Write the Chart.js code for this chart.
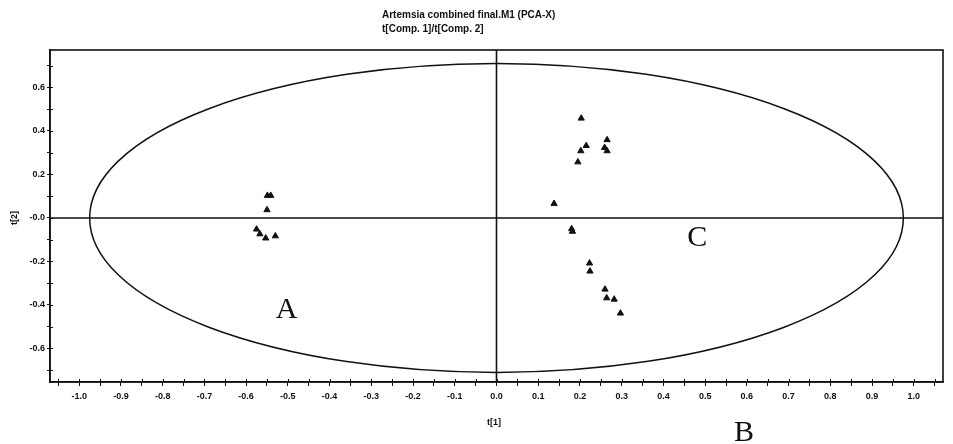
<!DOCTYPE html>
<html>
<head>
<meta charset="utf-8">
<script src="https://cdn.jsdelivr.net/npm/chart.js@4/dist/chart.umd.min.js"></script>
<style>
  html, body { margin: 0; padding: 0; background: #fff; }
  canvas { display: block; }
</style>
</head>
<body>
<canvas id="pcaChart" width="953" height="444"></canvas>
<script>
/* --- Data ---------------------------------------------------------------- */
const groupA = [
  { x: -0.549, y: 0.103 }, { x: -0.541, y: 0.103 }, { x: -0.550, y: 0.037 },
  { x: -0.575, y: -0.052 }, { x: -0.567, y: -0.074 }, { x: -0.553, y: -0.093 },
  { x: -0.530, y: -0.083 }
];
const groupC = [
  { x: 0.203, y: 0.458 }, { x: 0.215, y: 0.332 }, { x: 0.202, y: 0.308 },
  { x: 0.195, y: 0.257 }, { x: 0.265, y: 0.359 }, { x: 0.259, y: 0.323 },
  { x: 0.265, y: 0.308 }, { x: 0.138, y: 0.066 },
  { x: 0.180, y: -0.050 }, { x: 0.182, y: -0.062 }, { x: 0.223, y: -0.208 },
  { x: 0.224, y: -0.245 }, { x: 0.260, y: -0.328 }, { x: 0.264, y: -0.368 },
  { x: 0.282, y: -0.374 }, { x: 0.297, y: -0.438 }
];

const xTickValues = [-1.0, -0.9, -0.8, -0.7, -0.6, -0.5, -0.4, -0.3, -0.2, -0.1,
                     0.0, 0.1, 0.2, 0.3, 0.4, 0.5, 0.6, 0.7, 0.8, 0.9, 1.0];
const xTickLabels = ['-1.0', '-0.9', '-0.8', '-0.7', '-0.6', '-0.5', '-0.4', '-0.3', '-0.2', '-0.1',
                     '0.0', '0.1', '0.2', '0.3', '0.4', '0.5', '0.6', '0.7', '0.8', '0.9', '1.0'];
const yTickValues = [-0.6, -0.4, -0.2, 0.0, 0.2, 0.4, 0.6];
const yTickLabels = ['-0.6', '-0.4', '-0.2', '-0.0', '0.2', '0.4', '0.6'];

const titleLines = ['Artemsia combined final.M1 (PCA-X)', 't[Comp. 1]/t[Comp. 2]'];
const xTitle = 't[1]';
const yTitle = 't[2]';

// Hotelling T2 ellipse semi-axes (in score units)
const ellipseAxes = { a: 0.975, b: 0.71 };

// group letters placed on the plot
const groupLetters = [
  { text: 'A', x: -0.503, y: -0.423 },
  { text: 'C', x: 0.481, y: -0.093 }
];
const outsideLetter = { text: 'B', x: 0.593 };

/* --- Helpers ------------------------------------------------------------- */
const INK = '#111';

function labelFor(values, labels, v) {
  const i = values.findIndex(t => Math.abs(t - v) < 1e-6);
  return i < 0 ? '' : labels[i];
}

function stepTicks(axis, lo, hi, step) {
  const t = [];
  for (let v = lo; v <= hi + 1e-9; v += step) t.push({ value: Math.round(v * 100) / 100 });
  axis.ticks = t;
}

/* --- Decorations: ellipse, zero lines, frame, texts ---------------------- */
const decor = {
  id: 'decor',
  beforeDatasetsDraw(c) {
    const { ctx, chartArea: a, scales: { x, y } } = c;
    const cx = x.getPixelForValue(0), cy = y.getPixelForValue(0);
    ctx.save();
    ctx.strokeStyle = INK;
    ctx.lineWidth = 1.6;
    ctx.beginPath();
    ctx.moveTo(a.left, cy); ctx.lineTo(a.right, cy);
    ctx.moveTo(cx, a.top);  ctx.lineTo(cx, a.bottom);
    ctx.stroke();

    const rx = x.getPixelForValue(ellipseAxes.a) - cx;
    const ry = cy - y.getPixelForValue(ellipseAxes.b);
    ctx.lineWidth = 1.5;
    ctx.beginPath();
    ctx.ellipse(cx, cy, rx, ry, 0, 0, Math.PI * 2);
    ctx.stroke();
    ctx.restore();
  },
  afterDraw(c) {
    const { ctx, chartArea: a, scales: { x, y } } = c;
    ctx.save();
    ctx.strokeStyle = INK;
    ctx.lineWidth = 1.6;
    ctx.strokeRect(a.left, a.top, a.right - a.left, a.bottom - a.top);

    // short inward tick stubs, so ticks cross the axis like the original
    ctx.lineWidth = 1;
    ctx.beginPath();
    x.ticks.forEach(t => {
      const px = Math.round(x.getPixelForValue(t.value)) + 0.5;
      ctx.moveTo(px, a.bottom); ctx.lineTo(px, a.bottom - 3);
    });
    y.ticks.forEach(t => {
      const py = Math.round(y.getPixelForValue(t.value)) + 0.5;
      ctx.moveTo(a.left, py); ctx.lineTo(a.left + 3, py);
    });
    ctx.stroke();

    ctx.fillStyle = INK;
    ctx.textBaseline = 'middle';
    ctx.textAlign = 'left';
    ctx.font = 'bold 10px "Liberation Sans", Arial, sans-serif';
    ctx.fillText(titleLines[0], 382, 15);
    ctx.fillText(titleLines[1], 382, 29);

    ctx.font = 'bold 9px "Liberation Sans", Arial, sans-serif';
    ctx.fillText(xTitle, 487, a.bottom + 41);
    ctx.save();
    ctx.translate(15, y.getPixelForValue(0));
    ctx.rotate(-Math.PI / 2);
    ctx.textAlign = 'center';
    ctx.fillText(yTitle, 0, 0);
    ctx.restore();

    ctx.font = '30px "Liberation Serif", "Times New Roman", serif';
    ctx.textAlign = 'center';
    groupLetters.forEach(l => ctx.fillText(l.text, x.getPixelForValue(l.x), y.getPixelForValue(l.y)));
    ctx.fillText(outsideLetter.text, x.getPixelForValue(outsideLetter.x), a.bottom + 51);
    ctx.restore();
  }
};

/* --- Chart --------------------------------------------------------------- */
const ctx = document.getElementById('pcaChart').getContext('2d');
const chart = new Chart(ctx, {
  type: 'scatter',
  data: {
    datasets: [
      { label: 'A', data: groupA, pointStyle: 'triangle', radius: 3.6,
        backgroundColor: INK, borderColor: INK, borderWidth: 1 },
      { label: 'C', data: groupC, pointStyle: 'triangle', radius: 3.6,
        backgroundColor: INK, borderColor: INK, borderWidth: 1 }
    ]
  },
  options: {
    responsive: false,
    animation: false,
    layout: { padding: { top: 50, right: 10, left: 0, bottom: 0 } },
    plugins: { legend: { display: false }, tooltip: { enabled: false }, title: { display: false } },
    scales: {
      x: {
        type: 'linear', min: -1.07, max: 1.07,
        afterBuildTicks: axis => stepTicks(axis, -1.05, 1.05, 0.05),
        afterFit: s => { s.height = 62; },
        grid: { drawOnChartArea: false, tickLength: 4, color: INK, tickColor: INK },
        border: { display: true, color: INK, width: 1.6 },
        ticks: {
          autoSkip: false, maxRotation: 0, padding: 5, color: INK,
          font: { family: '"Liberation Sans", Arial, sans-serif', size: 9, weight: 'bold' },
          callback: v => labelFor(xTickValues, xTickLabels, v)
        }
      },
      y: {
        type: 'linear', min: -0.754, max: 0.772,
        afterBuildTicks: axis => stepTicks(axis, -0.7, 0.7, 0.1),
        afterFit: s => { s.width = 50; },
        grid: { drawOnChartArea: false, tickLength: 3, color: INK, tickColor: INK },
        border: { display: true, color: INK, width: 1.6 },
        ticks: {
          autoSkip: false, padding: 2, color: INK,
          font: { family: '"Liberation Sans", Arial, sans-serif', size: 9, weight: 'bold' },
          callback: v => labelFor(yTickValues, yTickLabels, v)
        }
      }
    }
  },
  plugins: [decor]
});
</script>
</body>
</html>
